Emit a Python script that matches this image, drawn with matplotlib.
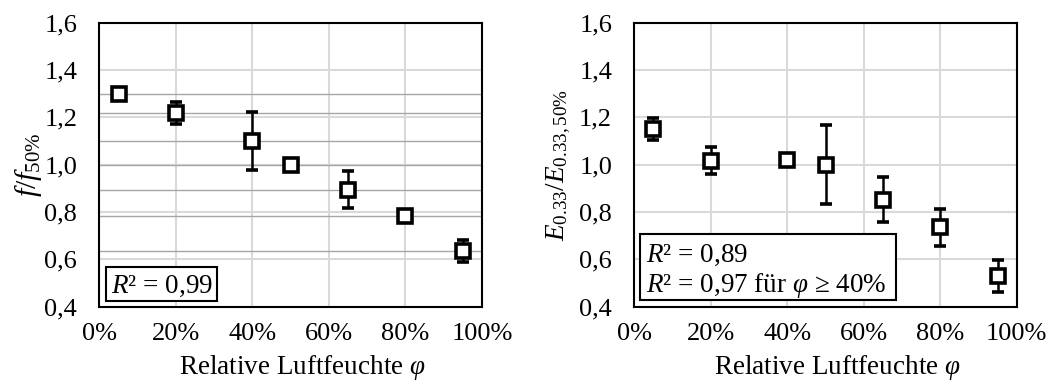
import matplotlib
matplotlib.use("agg")
import matplotlib.pyplot as plt
from matplotlib.patches import Rectangle
from matplotlib.ticker import FuncFormatter

plt.rcParams['font.family'] = ['Liberation Serif', 'DejaVu Serif']
plt.rcParams['mathtext.fontset'] = 'custom'
plt.rcParams['mathtext.rm'] = 'Liberation Serif'
plt.rcParams['mathtext.it'] = 'Liberation Serif:italic'
plt.rcParams['mathtext.bf'] = 'Liberation Serif:bold'

# relative humidity (fraction)
phi = [0.05, 0.20, 0.40, 0.50, 0.65, 0.80, 0.95]

# frequency ratio f / f_50%
f_ratio = [1.30, 1.22, 1.10, 1.00, 0.895, 0.783, 0.635]
f_err = [0.015, 0.046, 0.122, 0.005, 0.078, 0.012, 0.045]

# modulus ratio E_0.33 / E_0.33,50%
e_ratio = [1.152, 1.017, 1.02, 1.00, 0.853, 0.736, 0.530]
e_err = [0.046, 0.056, 0.015, 0.167, 0.094, 0.079, 0.066]

y_ticks = [0.4, 0.6, 0.8, 1.0, 1.2, 1.4, 1.6]
x_ticks = [0.0, 0.2, 0.4, 0.6, 0.8, 1.0]

FS_TICK = 19
FS_LAB = 19.5
FS_BOX = 19.5

fig = plt.figure(figsize=(10.58, 3.83), dpi=100)
ax1 = fig.add_axes([0.0940, 0.199, 0.3615, 0.7417])
ax2 = fig.add_axes([0.5995, 0.199, 0.3615, 0.7417])


def style_axes(ax, ylabel, ylab_x, ylab_size):
    ax.set_xlim(0, 1)
    ax.set_ylim(0.4, 1.6)
    ax.set_xticks(x_ticks)
    ax.set_yticks(y_ticks)
    ax.xaxis.set_major_formatter(FuncFormatter(lambda v, p: "%d%%" % round(v * 100)))
    ax.yaxis.set_major_formatter(FuncFormatter(lambda v, p: ("%.1f" % v).replace(".", ",")))
    ax.tick_params(length=0, labelsize=FS_TICK)
    ax.tick_params(axis='y', pad=16)
    ax.tick_params(axis='x', pad=12)
    ax.grid(True, color='#d9d9d9', lw=1.5, zorder=0)
    ax.set_axisbelow(True)
    for s in ax.spines.values():
        s.set_linewidth(1.5)
        s.set_color('black')
    ax.set_xlabel(r"Relative Luftfeuchte $\varphi$", fontsize=FS_LAB)
    ax.xaxis.set_label_coords(0.53, -0.163)
    ax.set_ylabel(ylabel, fontsize=ylab_size)
    ax.yaxis.set_label_coords(ylab_x, 0.5)


def draw_points(ax, y, err):
    ax.errorbar(phi, y, yerr=err, fmt='s', ms=10, mfc='white', mec='black',
                mew=2.6, ecolor='black', elinewidth=1.8, capsize=4,
                capthick=1.8, zorder=5)


def r2_box(ax, x0, y0, w, h):
    ax.add_patch(Rectangle((x0, y0), w, h, transform=ax.transAxes,
                           fc='white', ec='black', lw=1.5, zorder=6))


style_axes(ax1, r"$f/f_{\mathrm{50\%}}$", -0.145, 21.5)
for v in f_ratio:
    ax1.axhline(v, color='#a6a6a6', lw=1, zorder=1)
draw_points(ax1, f_ratio, f_err)
r2_box(ax1, 0.0164, 0.02, 0.292, 0.12)
ax1.text(0.029, 0.048, r"$R$² = 0,99", transform=ax1.transAxes,
         fontsize=FS_BOX, ha='left', va='baseline', zorder=7)

style_axes(ax2, r"$E_{\mathrm{0.33}}/E_{\mathrm{0.33,50\%}}$", -0.159, FS_LAB)
draw_points(ax2, e_ratio, e_err)
r2_box(ax2, 0.0157, 0.024, 0.669, 0.232)
ax2.text(0.031, 0.157, r"$R$² = 0,89", transform=ax2.transAxes,
         fontsize=FS_BOX, ha='left', va='baseline', zorder=7)
ax2.text(0.031, 0.052, "$R$² = 0,97 für $\\varphi$ ≥ 40%", transform=ax2.transAxes,
         fontsize=FS_BOX, ha='left', va='baseline', zorder=7)

fig.savefig("out.png", dpi=100)
